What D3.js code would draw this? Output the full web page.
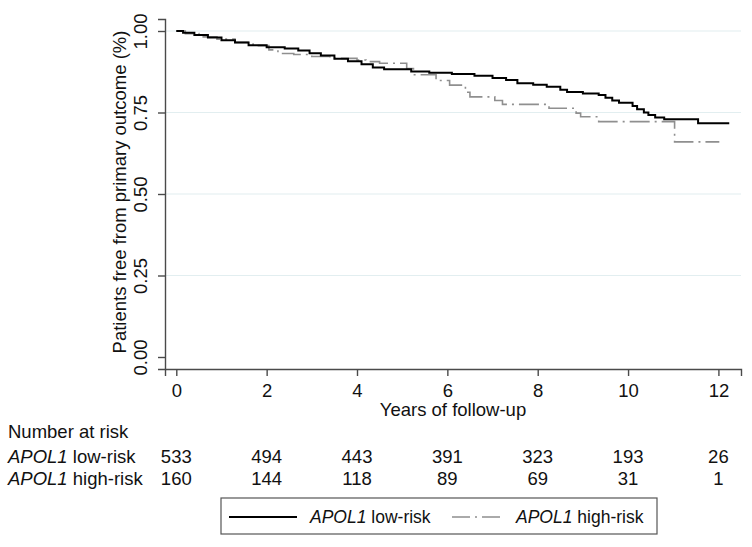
<!DOCTYPE html>
<html>
<head>
<meta charset="utf-8">
<script src="https://cdn.jsdelivr.net/npm/d3@7"></script>
<style>
  body { margin: 0; background: #fff; }
  text { font-family: "Liberation Sans", Arial, Helvetica, sans-serif; fill: #111; }
</style>
</head>
<body>
<div id="viscontainer"></div>
<script>
// Kaplan-Meier estimates (years, survival)
const lowTime = [0, 0.15, 0.4, 0.7, 1.0, 1.3, 1.6, 2.0, 2.4, 2.7, 2.95, 3.2, 3.5, 3.8, 4.1, 4.35, 4.6, 5.2, 5.6, 6.1, 6.6, 7.0, 7.3, 7.55, 7.9, 8.2, 8.5, 8.65, 9.0, 9.35, 9.5, 9.65, 9.8, 10.1, 10.2, 10.35, 10.45, 10.6, 10.8, 11.55, 12.24];
const lowSurv = [1.0, 0.995, 0.988, 0.98, 0.972, 0.965, 0.956, 0.95, 0.946, 0.94, 0.932, 0.925, 0.915, 0.907, 0.898, 0.888, 0.883, 0.876, 0.872, 0.868, 0.863, 0.856, 0.85, 0.84, 0.835, 0.829, 0.82, 0.813, 0.808, 0.804, 0.795, 0.787, 0.78, 0.77, 0.76, 0.75, 0.742, 0.735, 0.729, 0.717, 0.717];

const highTime = [0, 0.2, 0.5, 0.9, 1.3, 1.7, 2.05, 2.25, 2.6, 3.0, 3.4, 4.0, 4.2, 4.5, 5.1, 5.25, 5.75, 6.05, 6.4, 6.5, 7.05, 7.22, 8.25, 8.85, 8.95, 9.35, 11.03, 12.02];
const highSurv = [1.0, 0.992, 0.982, 0.975, 0.965, 0.955, 0.942, 0.931, 0.928, 0.922, 0.916, 0.911, 0.906, 0.901, 0.885, 0.866, 0.848, 0.834, 0.812, 0.798, 0.787, 0.775, 0.763, 0.748, 0.737, 0.722, 0.66, 0.66];

const xTicks = [0, 2, 4, 6, 8, 10, 12];
const yTicks = [0, 0.25, 0.5, 0.75, 1];
const lowRisk = [533, 494, 443, 391, 323, 193, 26];
const highRisk = [160, 144, 118, 89, 69, 31, 1];

const width = 752;
const height = 547;
const fontSize = 18.5;

const svg = d3.create("svg").attr("width", width).attr("height", height);
viscontainer.append(svg.node());

const x = d3.scaleLinear().domain([-0.25, 12.5]).range([165, 741]);
const y = d3.scaleLinear().domain([-0.0368, 1.0368]).range([369, 19]);

// gridlines
svg.append("g")
  .selectAll("line")
  .data(yTicks.filter((d) => d > 0))
  .join("line")
  .attr("x1", x(-0.25))
  .attr("x2", x(12.5))
  .attr("y1", (d) => y(d))
  .attr("y2", (d) => y(d))
  .attr("stroke", "#e2eef0")
  .attr("stroke-width", 1.2);

// axes
const xAxis = svg.append("g")
  .attr("transform", `translate(0, ${y(-0.0368)})`)
  .call(d3.axisBottom(x).tickValues(xTicks).tickSizeOuter(0).tickSize(7));
xAxis.selectAll("text").attr("font-size", fontSize).attr("dy", null).attr("y", 28);

const yAxis = svg.append("g")
  .attr("transform", `translate(${x(-0.25)}, 0)`)
  .call(d3.axisLeft(y).tickValues(yTicks).tickFormat(d3.format(".2f")).tickSizeOuter(0).tickSize(7));
yAxis.selectAll("text")
  .attr("font-size", fontSize)
  .attr("x", null).attr("dy", null)
  .attr("text-anchor", "middle")
  .attr("transform", "translate(-18.5, 0) rotate(-90)");

svg.selectAll(".domain, .tick line").attr("stroke", "#4a4a4a").attr("stroke-width", 1.4);
svg.selectAll(".tick text").attr("fill", "#111").attr("font-family", "Liberation Sans, Arial, sans-serif");

// axis titles
svg.append("text")
  .attr("transform", `translate(126, ${(y(1.0368) + y(-0.0368)) / 2 - 2}) rotate(-90)`)
  .attr("text-anchor", "middle")
  .attr("font-size", fontSize)
  .text("Patients free from primary outcome (%)");

svg.append("text")
  .attr("x", 453)
  .attr("y", 416)
  .attr("text-anchor", "middle")
  .attr("font-size", fontSize)
  .text("Years of follow-up");

// survival curves
const line = d3.line()
  .x((d) => x(d[0]))
  .y((d) => y(d[1]))
  .curve(d3.curveStepAfter);

svg.append("path")
  .datum(highTime.map((t, i) => [t, highSurv[i]]))
  .attr("d", line)
  .attr("fill", "none")
  .attr("stroke", "#8f8f8f")
  .attr("stroke-width", 1.6)
  .attr("stroke-dasharray", "20,5,2,5");

svg.append("path")
  .datum(lowTime.map((t, i) => [t, lowSurv[i]]))
  .attr("d", line)
  .attr("fill", "none")
  .attr("stroke", "#000")
  .attr("stroke-width", 2);

// number at risk table
svg.append("text").attr("x", 8).attr("y", 438).attr("font-size", fontSize).text("Number at risk");

const rowLabel = (yPos, rest) => {
  const t = svg.append("text").attr("x", 8).attr("y", yPos).attr("font-size", fontSize);
  t.append("tspan").attr("font-style", "italic").text("APOL1");
  t.append("tspan").text(" " + rest);
};
rowLabel(463, "low-risk");
rowLabel(485, "high-risk");

svg.append("g")
  .selectAll("text")
  .data(lowRisk)
  .join("text")
  .attr("x", (d, i) => x(xTicks[i]))
  .attr("y", 463)
  .attr("text-anchor", "middle")
  .attr("font-size", fontSize)
  .text((d) => d);

svg.append("g")
  .selectAll("text")
  .data(highRisk)
  .join("text")
  .attr("x", (d, i) => x(xTicks[i]))
  .attr("y", 485)
  .attr("text-anchor", "middle")
  .attr("font-size", fontSize)
  .text((d) => d);

// legend
const legend = svg.append("g");
legend.append("rect")
  .attr("x", 221).attr("y", 498).attr("width", 436).attr("height", 36)
  .attr("fill", "#fff").attr("stroke", "#555").attr("stroke-width", 1.2);
legend.append("line")
  .attr("x1", 229).attr("x2", 297).attr("y1", 517).attr("y2", 517)
  .attr("stroke", "#000").attr("stroke-width", 2);
legend.append("line")
  .attr("x1", 452).attr("x2", 505).attr("y1", 517).attr("y2", 517)
  .attr("stroke", "#8f8f8f").attr("stroke-width", 1.6)
  .attr("stroke-dasharray", "18,5,2,5");

const legendText = (xPos, rest) => {
  const t = legend.append("text").attr("x", xPos).attr("y", 523).attr("font-size", 17.5);
  t.append("tspan").attr("font-style", "italic").text("APOL1");
  t.append("tspan").text(" " + rest);
};
legendText(310, "low-risk");
legendText(516, "high-risk");
</script>
</body>
</html>
